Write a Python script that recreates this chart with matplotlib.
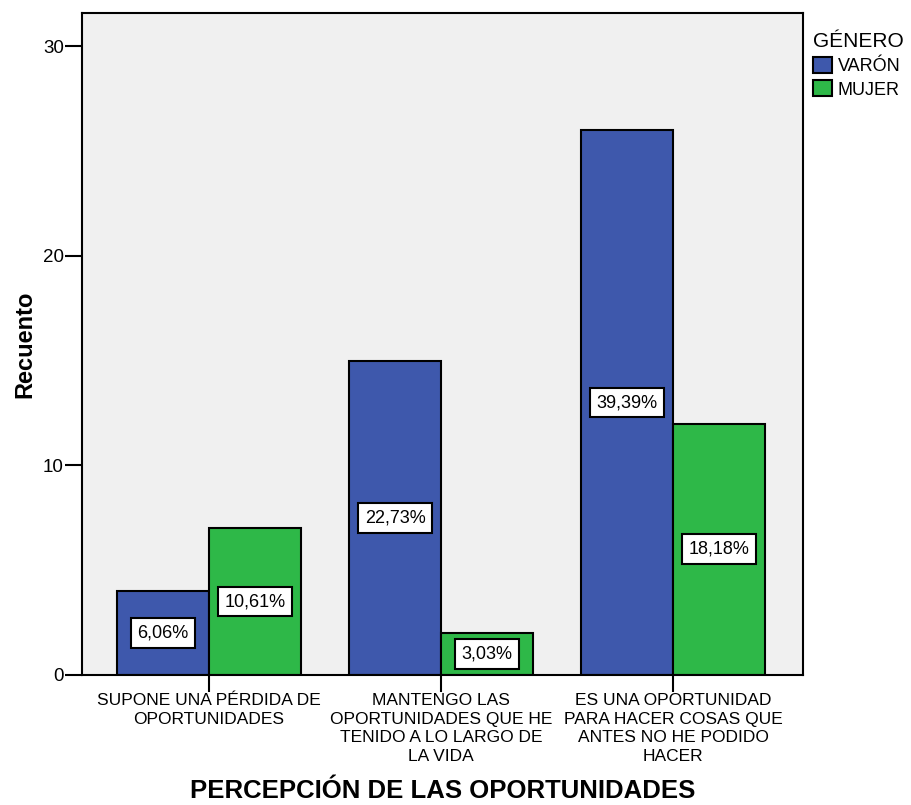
import numpy as np
import matplotlib
matplotlib.use("Agg")
from matplotlib import pyplot as plt
from matplotlib.patches import Patch

plt.rcParams['font.family'] = ['Liberation Sans', 'DejaVu Sans']

categorias = ["SUPONE UNA PÉRDIDA DE\nOPORTUNIDADES",
              "MANTENGO LAS\nOPORTUNIDADES QUE HE\nTENIDO A LO LARGO DE\nLA VIDA",
              "ES UNA OPORTUNIDAD\nPARA HACER COSAS QUE\nANTES NO HE PODIDO\nHACER"]
varon = [4, 15, 26]
mujer = [7, 2, 12]
pct_varon = ["6,06%", "22,73%", "39,39%"]
pct_mujer = ["10,61%", "3,03%", "18,18%"]

azul = "#3E58AC"
verde = "#2EB848"

fig = plt.figure(figsize=(9.12, 8.05), dpi=100)
ax = fig.add_axes([0.0899, 0.1615, 0.7906, 0.8224])
ax.set_facecolor("#F0F0F0")

x = np.arange(len(categorias))
w = 0.396
ax.bar(x - w / 2, varon, w, color=azul, edgecolor="black", linewidth=1.5, zorder=2)
ax.bar(x + w / 2, mujer, w, color=verde, edgecolor="black", linewidth=1.5, zorder=2)

caja = dict(boxstyle="square,pad=0.35", facecolor="white", edgecolor="black", linewidth=1.5)
for i in range(len(x)):
    ax.text(x[i] - w / 2, varon[i] / 2, pct_varon[i], ha="center", va="center",
            fontsize=13, bbox=caja, zorder=3)
    ax.text(x[i] + w / 2, mujer[i] / 2, pct_mujer[i], ha="center", va="center",
            fontsize=13, bbox=caja, zorder=3)

ax.set_xlim(-0.547, 2.56)
ax.set_ylim(0, 31.6)
ax.set_yticks([0, 10, 20, 30])
ax.set_xticks(x)
ax.set_xticklabels(categorias, fontsize=12.5, linespacing=1.3)
ax.tick_params(axis="both", direction="out", length=12, width=1.5, labelsize=13.5)
ax.tick_params(axis="y", pad=1)
ax.tick_params(axis="x", labelsize=12.5, pad=1)
for s in ax.spines.values():
    s.set_linewidth(1.5)

ax.set_ylabel("Recuento", fontsize=17, fontweight="bold", labelpad=5)
ax.set_xlabel("PERCEPCIÓN DE LAS OPORTUNIDADES", fontsize=18.5, fontweight="bold", labelpad=11)

handles = [Patch(facecolor=azul, edgecolor="black", linewidth=1.5, label="VARÓN"),
           Patch(facecolor=verde, edgecolor="black", linewidth=1.5, label="MUJER")]
leg = fig.legend(handles=handles, title="GÉNERO", loc="upper left",
                 bbox_to_anchor=(0.891, 0.96), frameon=False, fontsize=13,
                 title_fontsize=15, handlelength=1.1, handleheight=1.0,
                 handletextpad=0.3, labelspacing=0.3, borderpad=0.0,
                 borderaxespad=0.0)
leg._legend_box.align = "left"

fig.savefig("out.png", dpi=100)
